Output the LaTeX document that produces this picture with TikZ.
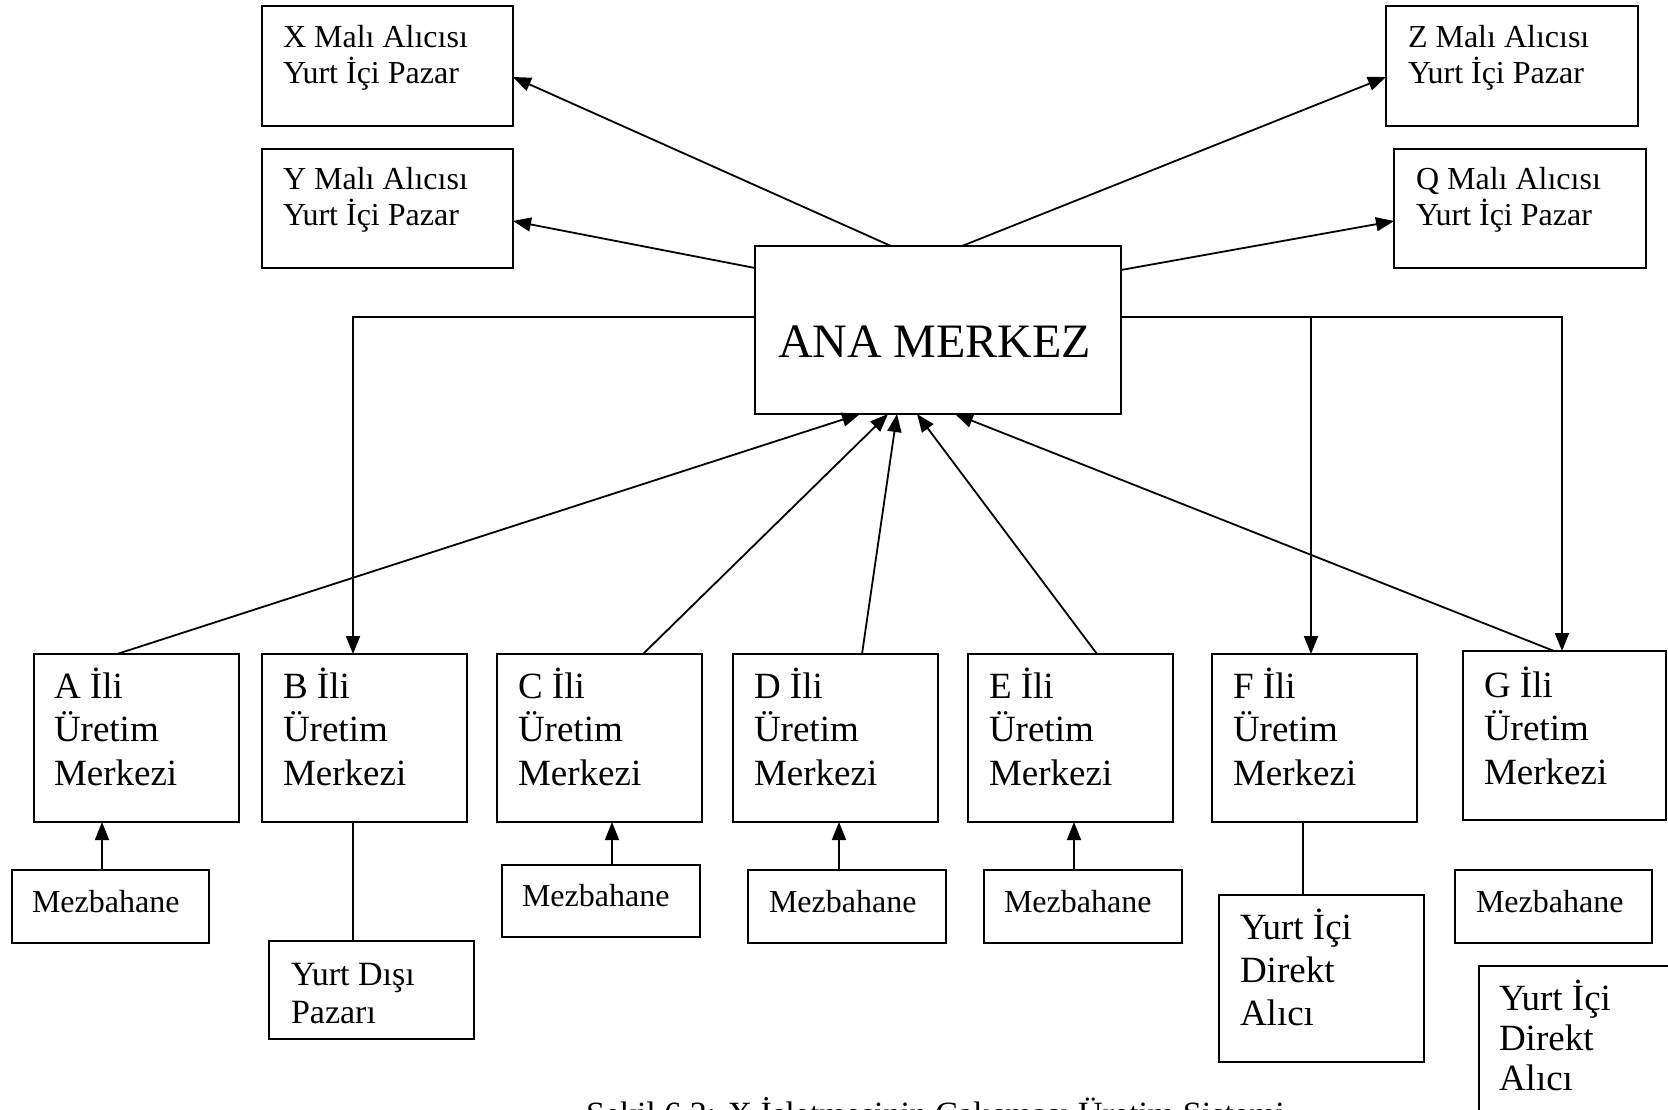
\documentclass[tikz,border=0pt]{standalone}
\usepackage{fontspec}
\setmainfont{Liberation Serif}
\usetikzlibrary{arrows.meta,calc}
\newcommand\ptxt[3]{\parbox[t]{400pt}{\raggedright\fontsize{#1}{#2}\selectfont #3}}
\begin{document}
\begin{tikzpicture}[x=1pt,y=-1pt,
  box/.style={draw, line width=2.2pt, inner sep=0pt, outer sep=0pt, anchor=north west},
  txt/.style={anchor=base west, inner sep=0pt, outer sep=0pt},
  conn/.style={line width=1.8pt},
  arr/.style={conn, -{Triangle[length=18pt,width=14pt]}}]
\useasboundingbox (0,0) rectangle (1668,1109);
\clip (0,0) rectangle (1668,1109);
% top boxes
\node[box, minimum width=251pt, minimum height=120pt] (X) at (262,6) {};
\node[box, minimum width=251pt, minimum height=119pt] (Y) at (262,149) {};
\node[box, minimum width=252pt, minimum height=120pt] (Z) at (1386,6) {};
\node[box, minimum width=252pt, minimum height=119pt] (Q) at (1394,149) {};
\node[txt] (Xt) at (283,47) {\ptxt{32}{36}{X Malı Alıcısı\\Yurt İçi Pazar}};
\node[txt] (Yt) at (283,189) {\ptxt{32}{36}{Y Malı Alıcısı\\Yurt İçi Pazar}};
\node[txt] (Zt) at (1408,47) {\ptxt{32}{36}{Z Malı Alıcısı\\Yurt İçi Pazar}};
\node[txt] (Qt) at (1416,189) {\ptxt{32}{36}{Q Malı Alıcısı\\Yurt İçi Pazar}};
% center
\node[box, minimum width=366pt, minimum height=168pt] (ANA) at (755,246) {};
\node[txt] (ANAt) at (778,357) {\fontsize{48}{54}\selectfont ANA MERKEZ};
% production centers
\node[box, minimum width=205pt, minimum height=168pt] (A) at (34,654) {};
\node[box, minimum width=205pt, minimum height=168pt] (B) at (262,654) {};
\node[box, minimum width=205pt, minimum height=168pt] (C) at (497,654) {};
\node[box, minimum width=205pt, minimum height=168pt] (D) at (733,654) {};
\node[box, minimum width=205pt, minimum height=168pt] (E) at (968,654) {};
\node[box, minimum width=205pt, minimum height=168pt] (F) at (1212,654) {};
\node[box, minimum width=203pt, minimum height=169pt] (G) at (1463,651) {};
\node[txt] (At) at (54,698) {\ptxt{37}{43.5}{A İli\\Üretim\\Merkezi}};
\node[txt] (Bt) at (283,698) {\ptxt{37}{43.5}{B İli\\Üretim\\Merkezi}};
\node[txt] (Ct) at (518,698) {\ptxt{37}{43.5}{C İli\\Üretim\\Merkezi}};
\node[txt] (Dt) at (754,698) {\ptxt{37}{43.5}{D İli\\Üretim\\Merkezi}};
\node[txt] (Et) at (989,698) {\ptxt{37}{43.5}{E İli\\Üretim\\Merkezi}};
\node[txt] (Ft) at (1233,698) {\ptxt{37}{43.5}{F İli\\Üretim\\Merkezi}};
\node[txt] (Gt) at (1484,697) {\ptxt{37}{43.5}{G İli\\Üretim\\Merkezi}};
% lower boxes
\node[box, minimum width=197pt, minimum height=73pt] (MA) at (12,870) {};
\node[box, minimum width=205pt, minimum height=98pt] (YD) at (269,941) {};
\node[box, minimum width=198pt, minimum height=72pt] (MC) at (502,865) {};
\node[box, minimum width=198pt, minimum height=73pt] (MD) at (748,870) {};
\node[box, minimum width=198pt, minimum height=73pt] (ME) at (984,870) {};
\node[box, minimum width=205pt, minimum height=167pt] (YF) at (1219,895) {};
\node[box, minimum width=197pt, minimum height=73pt] (MG) at (1455,870) {};
\node[box, minimum width=205pt, minimum height=167pt] (YG) at (1479,966) {};
\node[txt] (MAt) at (32,912) {\fontsize{32}{36}\selectfont Mezbahane};
\node[txt] (MCt) at (522,906) {\fontsize{32}{36}\selectfont Mezbahane};
\node[txt] (MDt) at (769,912) {\fontsize{32}{36}\selectfont Mezbahane};
\node[txt] (MEt) at (1004,912) {\fontsize{32}{36}\selectfont Mezbahane};
\node[txt] (MGt) at (1476,912) {\fontsize{32}{36}\selectfont Mezbahane};
\node[txt] (YDt) at (291,985) {\ptxt{34}{38}{Yurt Dışı\\Pazarı}};
\node[txt] (YFt) at (1240,939) {\ptxt{37}{43}{Yurt İçi\\Direkt\\Alıcı}};
\node[txt] (YGt) at (1499,1010) {\ptxt{37}{40}{Yurt İçi\\Direkt\\Alıcı}};
\node[txt] (cap) at (586,1125) {\fontsize{34}{40}\selectfont Şekil 6.2: X İşletmesinin Çalışması Üretim Sistemi};
% connectors from centre to top boxes
\draw[arr] ([xshift=136pt]ANA.north west) -- ([yshift=-11pt]X.east);
\draw[arr] ([yshift=-22pt]ANA.north west) -- ([yshift=-12.5pt]Y.east);
\draw[arr] ([xshift=207pt]ANA.north west) -- ([yshift=-11pt]Z.west);
\draw[arr] ([yshift=-24pt]ANA.north east) -- ([yshift=-12.5pt]Q.west);
% distribution lines
\coordinate (lt) at ([yshift=13pt]ANA.west);
\coordinate (rt) at ([yshift=13pt]ANA.east);
\coordinate (btop) at ([xshift=-11.5pt]B.north);
\coordinate (ftop) at ([xshift=-3.5pt]F.north);
\coordinate (gtop) at ([xshift=-2.5pt]G.north);
\draw[arr] (lt) -| (btop);
\draw[arr] (rt) -| (gtop);
\draw[arr] (ftop |- rt) -- (ftop);
% production centres to centre
\draw[arr] ([xshift=83pt]A.north west) -- ([xshift=105pt]ANA.south west);
\draw[arr] ([xshift=146pt]C.north west) -- ([xshift=133pt]ANA.south west);
\draw[arr] ([xshift=129pt]D.north west) -- ([xshift=142pt]ANA.south west);
\draw[arr] ([xshift=129pt]E.north west) -- ([xshift=162pt]ANA.south west);
\draw[arr] ([xshift=91pt]G.north west) -- ([xshift=200pt]ANA.south west);
% slaughterhouses
\coordinate (ma) at ([xshift=90pt]MA.north west);
\coordinate (mc) at ([xshift=110pt]MC.north west);
\coordinate (md) at ([xshift=91pt]MD.north west);
\coordinate (me) at ([xshift=90pt]ME.north west);
\draw[arr] (ma) -- (ma |- A.south);
\draw[arr] (mc) -- (mc |- C.south);
\draw[arr] (md) -- (md |- D.south);
\draw[arr] (me) -- (me |- E.south);
% plain lines to markets
\coordinate (bb) at ([xshift=-11.5pt]B.south);
\coordinate (fb) at ([xshift=-11.5pt]F.south);
\draw[conn] (bb) -- (bb |- YD.north);
\draw[conn] (fb) -- (fb |- YF.north);
\end{tikzpicture}
\end{document}
